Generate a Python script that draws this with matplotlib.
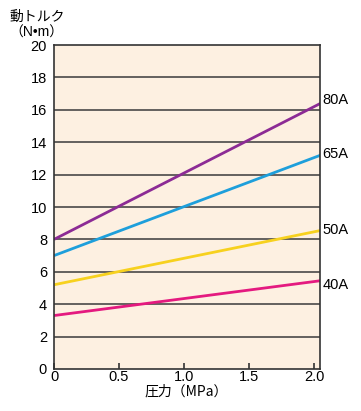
import matplotlib
matplotlib.use('Agg')
import matplotlib.pyplot as plt

plt.rcParams['font.family'] = ['Liberation Sans', 'Noto Sans CJK JP', 'DejaVu Sans']

# data (torque vs pressure, straight lines)
pressure = [0.0, 2.05]
torque_80a = [8.0, 16.4]
torque_65a = [7.0, 13.2]
torque_50a = [5.2, 8.55]
torque_40a = [3.3, 5.45]
sizes = ['80A', '65A', '50A', '40A']
colors = ['#8c2b95', '#1e9fdb', '#f7d11e', '#e4197f']
label_y = [16.6, 13.3, 8.6, 5.2]

x_ticks = [0, 0.5, 1.0, 1.5, 2.0]
x_ticklabels = ['0', '0.5', '1.0', '1.5', '2.0']
y_ticks = list(range(0, 21, 2))

fig = plt.figure(figsize=(3.61, 4.11), dpi=100)
ax = fig.add_axes([0.1496, 0.1022, 0.737, 0.7883])
ax.set_facecolor('#fdf0e1')

for y in y_ticks[1:-1]:
    ax.axhline(y, color='#3a3a3a', lw=1.1, zorder=1)

series = [torque_80a, torque_65a, torque_50a, torque_40a]
for vals, c in zip(series, colors):
    ax.plot(pressure, vals, color=c, lw=2, zorder=2, solid_capstyle='butt')

for name, ly in zip(sizes, label_y):
    ax.text(1.008, ly, name, transform=ax.get_yaxis_transform(),
            ha='left', va='center', fontsize=10.5)

ax.set_xlim(0, 2.046)
ax.set_ylim(0, 20)
ax.set_xticks(x_ticks)
ax.set_xticklabels(x_ticklabels)
ax.set_yticks(y_ticks)
ax.tick_params(axis='x', direction='in', length=4, width=1.2, labelsize=10.5,
               pad=1, color='#333333')
ax.tick_params(axis='y', length=0, labelsize=10.5, pad=5)
for s in ax.spines.values():
    s.set_color('#333333')
    s.set_linewidth(1.2)

fig.text(0.515, 0.047, '圧力（MPa）', fontsize=10, ha='center', va='center',
         family=['Noto Sans CJK JP', 'DejaVu Sans'])
fig.text(0.102, 0.959, '動トルク', fontsize=10, ha='center', va='center',
         family=['Noto Sans CJK JP', 'DejaVu Sans'])
fig.text(0.102, 0.921, '（N•m）', fontsize=10, ha='center', va='center')

plt.savefig('out.png', dpi=100)
plt.close()
